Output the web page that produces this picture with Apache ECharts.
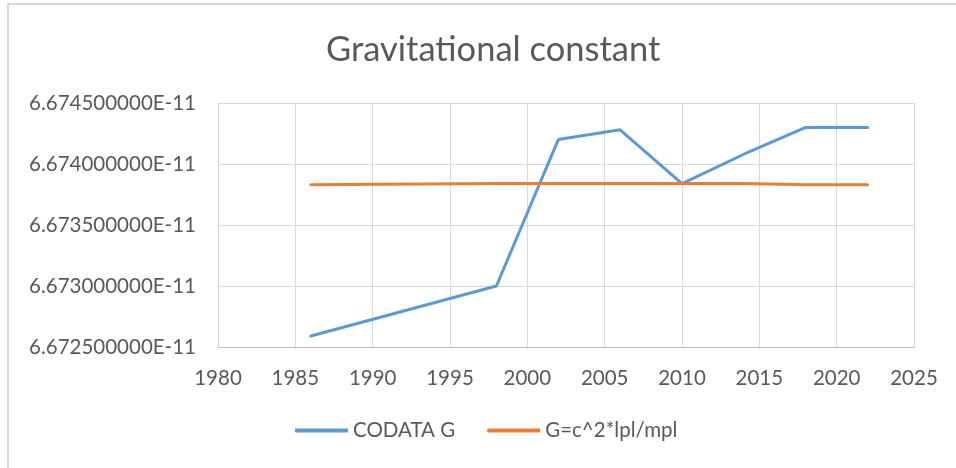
<!DOCTYPE html>
<html lang="en">
<head>
  <meta charset="UTF-8">
  <title>Gravitational constant</title>
  <script src="https://cdn.jsdelivr.net/npm/echarts@6/dist/echarts.min.js"></script>
  <style>
    html, body { margin: 0; padding: 0; background: #fff; }
    #chart { width: 956px; height: 468px; }
  </style>
</head>
<body>
<div id="chart"></div>
<script>
  // values in units of 1E-11
  var years = [1986, 1998, 2002, 2006, 2010, 2014, 2018, 2022];
  var codataG = [6.67259, 6.67300, 6.67420, 6.67428, 6.67384, 6.67408, 6.67430, 6.67430];
  var planckG = [6.67383, 6.67384, 6.67384, 6.67384, 6.67384, 6.67384, 6.67383, 6.67383];
  var seriesNames = ['CODATA G', 'G=c^2*lpl/mpl'];

  function pairs(xs, ys) {
    return xs.map(function (x, i) { return [x, ys[i]]; });
  }

  var font = 'Lato, "Open Sans", sans-serif';
  var myChart = echarts.init(document.getElementById('chart'));
  var option = {
    animation: false,
    title: {
      text: 'Gravitational constant',
      left: 321,
      top: 27,
      textStyle: { fontFamily: font, fontSize: 34.5, fontWeight: 'normal', color: '#595959' }
    },
    legend: {
      bottom: 22,
      left: 290,
      icon: 'roundRect',
      itemWidth: 53,
      itemHeight: 4,
      itemGap: 32,
      data: seriesNames,
      textStyle: { fontFamily: font, fontSize: 20.5, color: '#595959' }
    },
    graphic: [{
      type: 'rect',
      shape: { x: 8, y: 4, width: 1200, height: 1200 },
      style: { fill: 'none', stroke: '#d9d9d9', lineWidth: 2 },
      silent: true
    }],
    grid: { left: 218, right: 42, top: 103, bottom: 121 },
    xAxis: {
      type: 'value',
      min: 1980,
      max: 2025,
      interval: 5,
      axisLine: { show: true, lineStyle: { color: '#bfbfbf', width: 1 } },
      axisTick: { show: false },
      splitLine: { show: true, lineStyle: { color: '#d9d9d9', width: 1 } },
      axisLabel: {
        fontFamily: font, fontSize: 20.5, color: '#595959', margin: 21,
        formatter: function (v) { return String(v); }
      }
    },
    yAxis: {
      type: 'value',
      min: 6.6725,
      max: 6.6745,
      interval: 0.0005,
      axisLine: { show: false },
      axisTick: { show: false },
      splitLine: { show: true, lineStyle: { color: '#d9d9d9', width: 1 } },
      axisLabel: {
        fontFamily: font, fontSize: 20.5, color: '#595959', margin: 22,
        formatter: function (v) { return v.toFixed(9) + 'E-11'; }
      }
    },
    series: [
      {
        name: seriesNames[0],
        type: 'line',
        symbol: 'none',
        data: pairs(years, codataG),
        lineStyle: { color: '#5b9bd5', width: 3, cap: 'round' },
        itemStyle: { color: '#5b9bd5' }
      },
      {
        name: seriesNames[1],
        type: 'line',
        symbol: 'none',
        data: pairs(years, planckG),
        lineStyle: { color: '#ed7d31', width: 3, cap: 'round' },
        itemStyle: { color: '#ed7d31' }
      }
    ]
  };
  myChart.setOption(option);
</script>
</body>
</html>
